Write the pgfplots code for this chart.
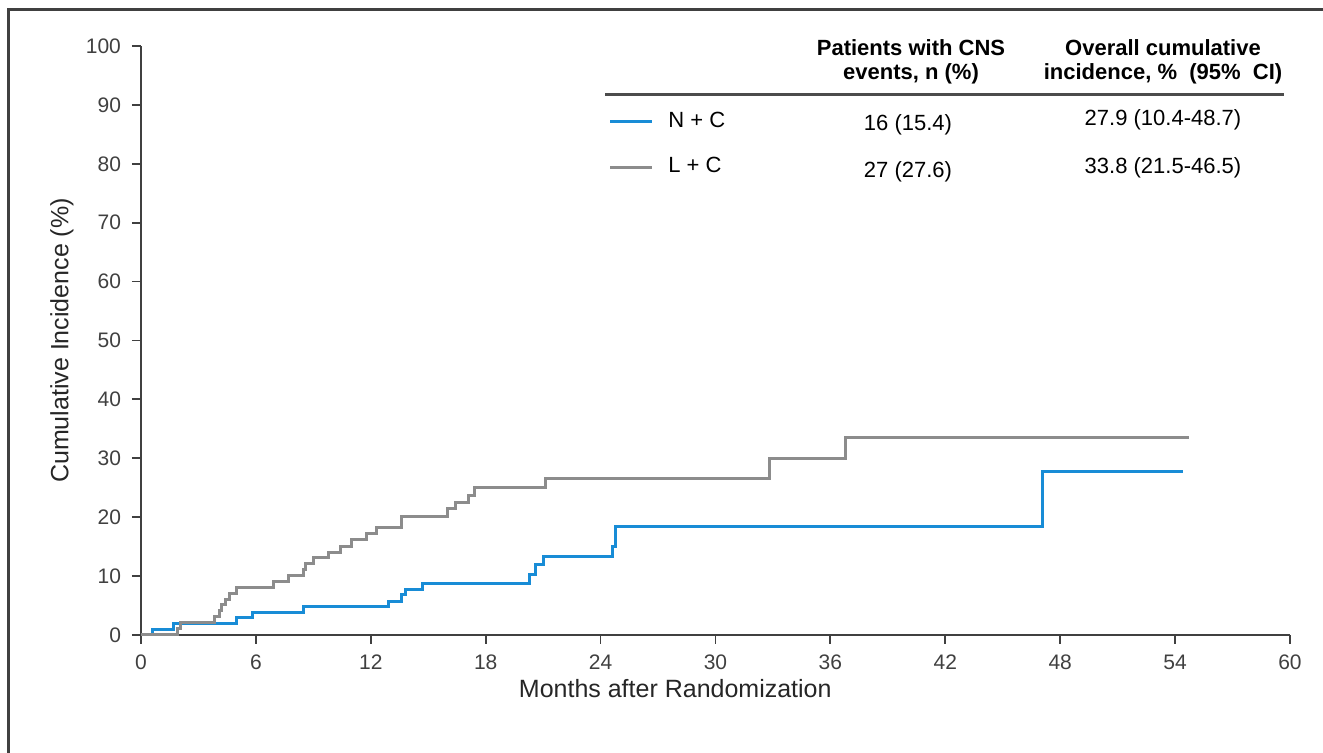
\documentclass[border=0pt]{standalone}
\usepackage{pgfplots}
\pgfplotsset{compat=1.18}
\usepackage{fontspec}
\setmainfont{Liberation Sans}
\definecolor{ncBlue}{RGB}{24,140,214}
\definecolor{lcGray}{RGB}{140,140,140}
\definecolor{axGray}{RGB}{64,64,64}

\begin{document}
\begin{tikzpicture}
\begin{axis}[
    scale only axis, width=574.5pt, height=294.5pt,
    at={(0,0)}, anchor=south west,
    xmin=0, xmax=60, ymin=0, ymax=100,
    xtick={0,6,...,60}, ytick={0,10,...,100},
    axis lines=left,
    axis line style={-, axGray, line width=1pt},
    tick style={axGray, line width=0.9pt},
    major tick length=4.5pt, tick align=outside,
    ticklabel style={font=\fontsize{10.5}{12}\selectfont, text=axGray},
    xticklabel style={yshift=-2pt},
    yticklabel style={xshift=-2pt},
    /pgf/number format/assume math mode=true,
    xlabel={Months after Randomization},
    ylabel={Cumulative Incidence (\%)},
    label style={font=\fontsize{12.5}{14}\selectfont, text=black!85},
    xlabel style={at={(axis description cs:0.465,-0.091)}, anchor=center},
    ylabel style={at={(axis description cs:-0.0688,0.5)}, anchor=center},
    clip=false]
  % N + C
  \addplot[const plot, ncBlue, line width=1.5pt] coordinates {
    (0,0) (0.6,0.96) (1.7,1.92) (5.0,2.9) (5.8,3.85) (8.5,4.8)
    (12.9,5.75) (13.6,6.8) (13.8,7.75) (14.7,8.7) (20.3,10.3)
    (20.6,11.9) (21.0,13.3) (24.6,15.1) (24.8,18.5) (47.1,27.7) (54.4,27.7)};
  % L + C
  \addplot[const plot, lcGray, line width=1.5pt] coordinates {
    (0,0) (1.9,1.02) (2.05,2.04) (3.85,3.1) (4.1,4.1) (4.2,5.1) (4.4,6.1)
    (4.6,7.1) (5.0,8.0) (6.9,9.0) (7.7,10.1) (8.5,11.1) (8.6,12.2)
    (9.0,13.2) (9.8,14.0) (10.4,15.1) (11.0,16.2) (11.8,17.3) (12.3,18.3)
    (13.6,20.2) (16.0,21.4) (16.4,22.5) (17.1,23.7) (17.4,25.0) (21.1,26.6)
    (32.8,29.9) (36.8,33.6) (54.7,33.6)};
\end{axis}

% pixel grid of the reference: 1 px = 0.5pt, origin at the top left
\begin{scope}[x=0.5pt,y=-0.5pt,shift={(-70.5pt,317.5pt)}]
  % frame
  \draw[axGray, line width=1.5pt] (9,760) -- (9,10) -- (1330,10);
  % table legend
  \begin{scope}[every node/.style={font=\fontsize{11}{12}\selectfont, inner sep=0pt}]
    \node[font=\fontsize{11}{12}\selectfont\bfseries, align=center] at (911,62)
      {Patients with CNS\\events, n (\%)};
    \node[font=\fontsize{11}{12}\selectfont\bfseries, align=center] at (1163,62)
      {Overall cumulative\\incidence, \%\ \ (95\%\ \ CI)};
    \draw[black!70, line width=1.5pt] (605,95) -- (1284,95);
    \draw[ncBlue, line width=1.5pt] (610,122) -- (652,122);
    \node[anchor=west] at (668,120) {N + C};
    \node at (908,125) {16 (15.4)};
    \node at (1163,120) {27.9 (10.4-48.7)};
    \draw[lcGray, line width=1.5pt] (610,168) -- (652,168);
    \node[anchor=west] at (668,165) {L + C};
    \node at (908,172) {27 (27.6)};
    \node at (1163,168) {33.8 (21.5-46.5)};
  \end{scope}
  \pgfresetboundingbox
  \path[use as bounding box] (0,0) rectangle (1323,753);
\end{scope}
\end{tikzpicture}
\end{document}
